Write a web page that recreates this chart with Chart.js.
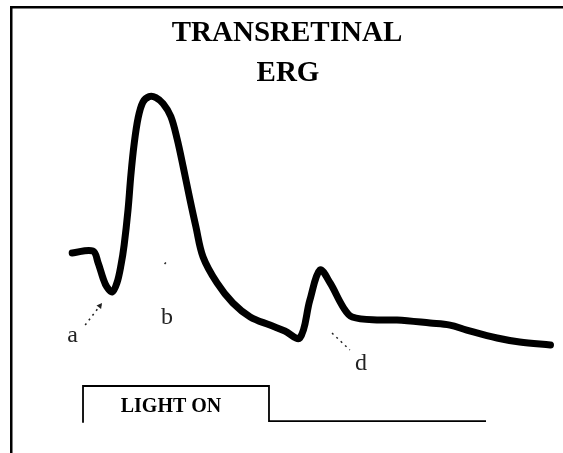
<!DOCTYPE html>
<html>
<head>
<meta charset="utf-8">
<title>Transretinal ERG</title>
<script src="https://cdn.jsdelivr.net/npm/chart.js@4.4.1/dist/chart.umd.min.js"></script>
<style>
  html, body { margin: 0; padding: 0; background: #fff; }
  #wrap { width: 563px; height: 453px; }
</style>
</head>
<body>
<div id="wrap"><canvas id="erg" width="563" height="453"></canvas></div>
<script>
// ERG trace: time (ms, arbitrary zero) and amplitude (uV, arbitrary)
const ergTime = [0, 4.3, 5.4, 6.4, 7.2, 8.3, 9.3, 10.15, 10.8, 11.6, 12.2, 12.85, 13.7, 14.7, 16.0, 17.4, 18.9, 20.5, 21.8, 23.1, 24.4, 25.7, 27.2, 30.1, 33.4, 37, 41.1, 44.2, 47.3, 49.4, 51.5, 53.6, 56.3, 58.2, 64, 67.5, 74.4, 78.5, 82, 88.3, 93, 99.4];
const ergAmp = [0.4, 1.6, -5.9, -15.3, -20.9, -24.1, -18.4, -7.1, 5.4, 27.3, 49.3, 68.1, 85, 95, 98.4, 97.8, 94, 86, 72, 54, 35, 17, -2.1, -18.4, -31, -39.7, -44.8, -48.5, -52.9, -29.1, -10.3, -18.4, -33.5, -39.7, -41.6, -41.6, -43.5, -44.8, -47.9, -52.9, -55.4, -57.3];

// stimulus marker (light on / off)
const stimTime = [2.25, 2.25, 40.9, 40.9, 86];
const stimLevel = [-106, -83, -83, -105, -105];

const titleLines = ['TRANSRETINAL', 'ERG'];
const stimLabel = 'LIGHT ON';

// wave labels with their pointer lines, in data units
const waveLabels = [
  { text: 'a', x: 0.1, y: -55.4, from: [2.7, -44.8], to: [6.2, -31], arrow: true },
  { text: 'b', x: 19.7, y: -44, from: [19.2, -6.5], to: [19.5, -5.5], arrow: false },
  { text: 'd', x: 60, y: -73, from: [54, -49.8], to: [57.7, -60.4], arrow: false }
];

function toPoints(xs, ys) {
  return xs.map((x, i) => ({ x: x, y: ys[i] }));
}

const decorPlugin = {
  id: 'decor',
  beforeDraw(chart) {
    const ctx = chart.ctx;
    ctx.save();
    ctx.fillStyle = '#fff';
    ctx.fillRect(0, 0, chart.width, chart.height);
    // frame (only top / left edges visible)
    ctx.fillStyle = '#000';
    ctx.fillRect(10, 6, chart.width - 10, 2.5);
    ctx.fillRect(10, 6, 2.5, chart.height - 6);
    ctx.restore();
  },
  afterDatasetsDraw(chart) {
    const ctx = chart.ctx;
    const xs = chart.scales.x;
    const ys = chart.scales.y;
    ctx.save();

    // title
    ctx.fillStyle = '#000';
    ctx.textAlign = 'center';
    ctx.textBaseline = 'alphabetic';
    ctx.font = 'bold 29px "Liberation Serif", "DejaVu Serif", serif';
    ctx.fillText(titleLines[0], 287, 41);
    ctx.fillText(titleLines[1], 288, 81);

    // stimulus label
    ctx.font = 'bold 20px "Liberation Serif", "DejaVu Serif", serif';
    ctx.fillText(stimLabel, 171, 412);

    // wave labels and dotted pointers
    waveLabels.forEach(l => {
      const x0 = xs.getPixelForValue(l.from[0]);
      const y0 = ys.getPixelForValue(l.from[1]);
      const x1 = xs.getPixelForValue(l.to[0]);
      const y1 = ys.getPixelForValue(l.to[1]);
      ctx.strokeStyle = '#222';
      ctx.lineWidth = 1.5;
      ctx.setLineDash([2, 4]);
      ctx.beginPath();
      ctx.moveTo(x0, y0);
      ctx.lineTo(x1, y1);
      ctx.stroke();
      ctx.setLineDash([]);
      if (l.arrow) {
        const ang = Math.atan2(y1 - y0, x1 - x0);
        ctx.fillStyle = '#222';
        ctx.beginPath();
        ctx.moveTo(x1, y1);
        ctx.lineTo(x1 - 6 * Math.cos(ang - 0.5), y1 - 6 * Math.sin(ang - 0.5));
        ctx.lineTo(x1 - 6 * Math.cos(ang + 0.5), y1 - 6 * Math.sin(ang + 0.5));
        ctx.closePath();
        ctx.fill();
      }
      ctx.fillStyle = '#222';
      ctx.font = '24px "Liberation Serif", "DejaVu Serif", serif';
      ctx.textAlign = 'center';
      ctx.fillText(l.text, xs.getPixelForValue(l.x), ys.getPixelForValue(l.y));
    });
    ctx.restore();
  }
};

const chart = new Chart(document.getElementById('erg').getContext('2d'), {
  type: 'line',
  data: {
    datasets: [
      {
        label: 'ERG',
        data: toPoints(ergTime, ergAmp),
        borderColor: '#000',
        borderWidth: 7,
        borderCapStyle: 'round',
        borderJoinStyle: 'round',
        tension: 0.35,
        pointRadius: 0,
        fill: false
      },
      {
        label: 'Stimulus',
        data: toPoints(stimTime, stimLevel),
        borderColor: '#000',
        borderWidth: 1.8,
        tension: 0,
        pointRadius: 0,
        fill: false
      }
    ]
  },
  options: {
    responsive: false,
    animation: false,
    layout: { padding: 0 },
    plugins: {
      legend: { display: false },
      tooltip: { enabled: false },
      title: { display: false }
    },
    scales: {
      x: { type: 'linear', min: -15, max: 102, display: false },
      y: { type: 'linear', min: -125, max: 159, display: false }
    }
  },
  plugins: [decorPlugin]
});
</script>
</body>
</html>
